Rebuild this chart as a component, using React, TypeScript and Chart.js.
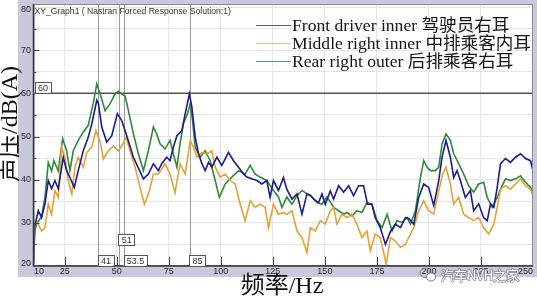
import React, { useEffect, useRef } from 'react';
import { Chart, registerables } from 'chart.js';

Chart.register(...registerables);

// ---------- data ----------
const frontFreq = [10, 10.5, 12.3, 13.9, 15.5, 17.1, 18.7, 20.3, 21.9, 24.3, 25.9, 27.5, 29.6, 31.5, 33.9, 36.3, 38, 40.4, 41.2, 42.8, 45.2, 47.6, 50.3, 52.4, 54.8, 58, 62.8, 65.2, 67.6, 70, 71.6, 74, 75.6, 77.2, 78.9, 81.3, 82.9, 84.9, 86.1, 87.7, 89.3, 90.9, 92.5, 94.1, 95.7, 98.1, 100.5, 103.7, 106.1, 108.5, 110.9, 112.5, 114.9, 117.3, 119.7, 122.1, 123.7, 125.3, 127.7, 130.1, 131.7, 134.2, 136.6, 139, 141.4, 143, 144.6, 147, 148.6, 150.2, 152.6, 154.2, 156.6, 159, 161.4, 163.8, 166.2, 168.6, 170.5, 172.6, 174.2, 176.6, 179.1, 181.5, 183.9, 186.3, 188.7, 190.3, 192.7, 195.1, 197.5, 199.9, 202.3, 204.7, 206.3, 208.2, 210.3, 211.9, 213.5, 215.1, 217.5, 219.9, 221.5, 223.9, 226.3, 228, 229.6, 231.2, 232.8, 234.4, 236.8, 239.2, 241.6, 244, 246.4, 248.8, 250];
const frontDb = [20.5, 29, 32.8, 31.2, 34.4, 39.8, 37.9, 39.8, 37.9, 45.2, 42.1, 40.5, 38.2, 42.1, 46.7, 49.8, 52.9, 58.4, 57.6, 52.2, 48.7, 50.2, 55.3, 53.7, 50.2, 45.2, 40.2, 41.3, 43.7, 42.1, 43.7, 45.2, 44.4, 47.5, 50.2, 51.4, 55.3, 59.9, 56.8, 49.8, 46, 43.7, 42.1, 44, 42.9, 45.2, 43.3, 46.3, 44.4, 42.9, 41.3, 40.6, 40.2, 39.8, 39, 39.8, 35.9, 39.8, 37.5, 40.5, 37.8, 35.5, 36.7, 32, 36.7, 36.4, 35.5, 34.7, 36.7, 34.3, 37.4, 35.5, 38.6, 37.1, 38.6, 36.3, 38.6, 38.6, 34.3, 34.3, 31.2, 28.9, 25, 28, 29.7, 28.9, 31.2, 31, 29.7, 35.9, 39, 38.2, 34, 39.8, 45.2, 49.1, 45.2, 40.5, 42.1, 39.8, 35.9, 37.5, 32.8, 34.4, 31.2, 30.5, 34.4, 33.6, 38.2, 43.7, 44.9, 44, 45.2, 46, 44.9, 44.4, 42.1];

const middleFreq = [10, 10.6, 11.5, 13.9, 15.5, 17.1, 18.7, 20.3, 21.9, 23.5, 25.1, 26.7, 28.4, 29.9, 31.5, 33.9, 35.6, 38, 40, 42, 43.6, 46, 48.4, 50.8, 52.4, 54.5, 56.4, 58.8, 61.2, 63.3, 65.7, 67.6, 70, 71.2, 73.2, 75.6, 78, 80.4, 82.9, 85.3, 86.9, 88.5, 90.9, 93.3, 95.7, 97.3, 99.7, 102.1, 104.5, 106.9, 109.3, 111.7, 114.1, 116.5, 118.9, 121.3, 122.9, 125.3, 127.7, 130.1, 131.7, 134.2, 136.6, 139, 141.4, 143, 145.4, 147.8, 150.2, 152.6, 154.2, 155.8, 158.2, 160.6, 163, 165.4, 167.8, 170.2, 171.8, 174.2, 176.6, 179.5, 181.5, 183.9, 186.3, 188.7, 190.3, 192.7, 195.1, 197.5, 199.9, 202.3, 204.7, 206.6, 208.2, 210.3, 211.9, 214.3, 216.7, 219.1, 221.5, 223.9, 226.3, 228.7, 231.2, 232.8, 234.4, 236.8, 239.2, 241.6, 244, 246.4, 248.8, 250];
const middleDb = [20.5, 29, 30.5, 28.1, 28.9, 34.3, 32, 37.4, 35.9, 47.5, 45.2, 39.8, 36.7, 42.9, 45.2, 42.9, 46.3, 47.5, 51.4, 48.8, 44.8, 46.7, 47.8, 46.7, 47.8, 49.8, 46.7, 42.9, 38.2, 34.3, 37.4, 41.3, 41.3, 42.1, 43.7, 41.3, 37, 43.7, 41.3, 49.1, 47.5, 45.2, 46.3, 46, 46.7, 42.9, 40.6, 41.3, 39.8, 39, 34.3, 30.5, 35.1, 33.6, 34.3, 33.6, 28.9, 34.3, 32, 32.4, 32, 32.8, 28.1, 26.6, 23.1, 28.9, 28.1, 30.5, 29.7, 32.8, 33.6, 29.7, 32, 31.2, 32, 29.7, 26.6, 28.1, 23.5, 27.4, 26.6, 20.4, 26.6, 25.8, 24.3, 25, 26.6, 28.9, 32.8, 35.1, 32.8, 32, 37.4, 41.3, 42.9, 39, 34.3, 35.9, 32, 31.2, 30.5, 31.2, 28.9, 27.4, 29.7, 33.6, 37.8, 38.6, 37.8, 39, 40.2, 38.6, 37.8, 36.3];

const rearFreq = [10, 10.6, 11.5, 13.9, 15.5, 17.1, 18.7, 19.8, 21.9, 24, 25.9, 27.5, 29.1, 31.5, 33.9, 36.3, 38.7, 40.4, 42, 44.4, 46.8, 49.2, 50.8, 52.4, 54, 55.6, 58, 60.4, 62.8, 65.2, 67.6, 69.2, 70.8, 73.2, 75.6, 77.2, 78.9, 80.4, 82, 84, 85.3, 86.4, 87.7, 90.1, 92.5, 94.9, 97.3, 99.3, 102.1, 105.3, 108.5, 111.7, 114.1, 116.5, 118.9, 122.1, 125.3, 127.7, 129.4, 131.7, 134.2, 136.6, 139, 141.4, 143.8, 146.2, 148.6, 151, 154.2, 156.6, 159, 160.6, 163, 165.4, 167.8, 170.2, 172.6, 175.1, 177.5, 179.9, 182.3, 184.7, 187.1, 189.5, 191.1, 193.5, 195.9, 197.5, 199.1, 200.7, 203.1, 204.7, 206.3, 208.2, 210.3, 211.9, 214.3, 216.7, 219.1, 221.5, 223.9, 226.3, 228, 230.4, 232.8, 234.4, 236.8, 239.2, 241.6, 244, 246.4, 248.8, 250];
const rearDb = [20.5, 28, 29.7, 31.5, 35.9, 44, 42, 44.4, 42, 49.5, 46.7, 42.1, 46.7, 49.1, 51, 52.6, 57.6, 62.2, 59.9, 56, 57.6, 59.9, 60.5, 59.8, 59.4, 56, 50.6, 46, 42.1, 46.7, 52.2, 50.6, 48.3, 47.1, 49.1, 46, 42.9, 48.3, 52.9, 55.3, 57.6, 53.7, 47.5, 45.2, 46.7, 44.4, 39.8, 35.9, 39, 40.6, 42.1, 41.3, 43.3, 41.3, 40.6, 39.8, 37.5, 36, 33.6, 36, 34.3, 36.3, 37.5, 36.7, 36, 34.7, 34.3, 36, 33.6, 32.8, 32, 32.4, 31.6, 32.8, 32.4, 34.7, 34.3, 30.5, 28.9, 32, 28.1, 30.5, 30.1, 31.2, 29.7, 32.8, 40.5, 44.4, 42.9, 42.1, 42.1, 42.9, 48.3, 50.6, 49.1, 46, 43.7, 41.3, 38.6, 37.1, 39, 39.4, 35.9, 33.6, 35.9, 37.8, 40.2, 39.8, 40.2, 40.9, 39.4, 38.2, 36.7];

const seriesNames = ['Front driver inner 驾驶员右耳', 'Middle right inner 中排乘客内耳', 'Rear right outer 后排乘客右耳'];
const xTickLabelValues = [10, 25, 50, 75, 100, 125, 150, 175, 200, 225, 250];
const xTickLabels = ['10', '25', '50', '75', '100', '125', '150', '175', '200', '225', '250'];
const yTickLabelValues = [20, 30, 40, 50, 60, 70, 80];
const yTickLabels = ['20', '30', '40', '50', '60', '70', '80'];
const markerFreqs = [41, 51, 53.5, 85];
const markerLabels = ['41', '51', '53.5', '85'];
const refLevel = 60;
const refLabel = '60';
const graphTitle = 'XY_Graph1 ( Nastran Forced Response Solution:1)';
const yAxisTitle = '声压/dB(A)';
const xAxisTitle = '频率/Hz';
const watermark = '汽车NVH之家';

// ---------- styling ----------
const W = 537;
const H = 296;
const BAND = '#c9c9de';
const COLORS = ['#1c1c8c', '#e6a235', '#2e8a3a'];
const LEGEND_COLORS = ['#5a5a7a', '#e8c860', '#5a9a8a'];
const SANS = '"Liberation Sans", Arial, sans-serif';
const SERIF = '"Liberation Serif", "Times New Roman", "Noto Sans CJK SC", serif';

const pts = (f: number[], d: number[]) => f.map((x, i) => ({ x, y: d[i] }));

export default function App() {
  const ref = useRef<HTMLCanvasElement>(null);

  useEffect(() => {
    const canvas = ref.current;
    if (!canvas) return;

    const overlay = {
      id: 'overlay',
      beforeDraw(chart: any) {
        const { ctx, chartArea: a } = chart;
        ctx.save();
        ctx.fillStyle = '#ffffff';
        ctx.fillRect(0, 0, W, H);
        ctx.fillStyle = BAND;
        ctx.fillRect(18, 0, W - 18, 277);
        ctx.fillStyle = '#ffffff';
        ctx.fillRect(a.left, a.top, a.right - a.left, a.bottom - a.top);
        ctx.restore();
      },
      beforeDatasetsDraw(chart: any) {
        const { ctx, chartArea: a, scales } = chart;
        const xs = scales.x;
        const ys = scales.y;
        ctx.save();
        ctx.strokeStyle = '#9a9a9a';
        ctx.lineWidth = 1;
        markerFreqs.forEach((f) => {
          const px = Math.round(xs.getPixelForValue(f)) + 0.5;
          ctx.beginPath();
          ctx.moveTo(px, a.top);
          ctx.lineTo(px, a.bottom);
          ctx.stroke();
        });
        const py = ys.getPixelForValue(refLevel);
        ctx.strokeStyle = '#555555';
        ctx.lineWidth = 1.5;
        ctx.beginPath();
        ctx.moveTo(a.left, py);
        ctx.lineTo(a.right, py);
        ctx.stroke();
        ctx.restore();
      },
      afterDatasetsDraw(chart: any) {
        const { ctx, chartArea: a, scales } = chart;
        const xs = scales.x;
        const ys = scales.y;
        ctx.save();

        // frame
        ctx.strokeStyle = '#8a8a8a';
        ctx.lineWidth = 1;
        ctx.strokeRect(a.left + 0.5, a.top + 0.5, a.right - a.left - 1, a.bottom - a.top - 1);
        // axes
        ctx.strokeStyle = '#333333';
        ctx.lineWidth = 1.5;
        ctx.beginPath();
        ctx.moveTo(a.left, a.top);
        ctx.lineTo(a.left, a.bottom);
        ctx.lineTo(a.right, a.bottom);
        ctx.stroke();

        // y ticks
        ctx.lineWidth = 1;
        ctx.strokeStyle = '#444444';
        for (let v = 25; v < 80; v += 5) {
          const py = Math.round(ys.getPixelForValue(v)) + 0.5;
          ctx.beginPath();
          ctx.moveTo(a.left, py);
          ctx.lineTo(a.left + (v % 10 === 0 ? 6 : 3), py);
          ctx.stroke();
        }
        // x ticks
        xTickLabelValues.forEach((v) => {
          if (v <= 10 || v >= 250) return;
          const px = Math.round(xs.getPixelForValue(v)) + 0.5;
          ctx.beginPath();
          ctx.moveTo(px, a.bottom);
          ctx.lineTo(px, a.bottom - 9);
          ctx.stroke();
        });

        // tick labels
        ctx.fillStyle = '#262626';
        ctx.font = `9px ${SANS}`;
        ctx.textBaseline = 'middle';
        ctx.textAlign = 'right';
        yTickLabelValues.forEach((v, i) => {
          let py = ys.getPixelForValue(v);
          if (v === 80) py += 2;
          if (v === 20) py -= 2;
          ctx.fillText(yTickLabels[i], 31, py);
        });
        xTickLabelValues.forEach((v, i) => {
          const px = xs.getPixelForValue(v);
          if (v === 10) {
            ctx.textAlign = 'left';
            ctx.fillText(xTickLabels[i], px + 0.5, 272);
          } else if (v === 250) {
            ctx.textAlign = 'right';
            ctx.fillText(xTickLabels[i], px, 272);
          } else {
            ctx.textAlign = 'center';
            ctx.fillText(xTickLabels[i], px, 272);
          }
        });

        // marker label boxes
        const box = (text: string, left: number, top: number) => {
          ctx.font = `9px ${SANS}`;
          const w = Math.ceil(ctx.measureText(text).width) + 5;
          const h = 11;
          ctx.fillStyle = '#ffffff';
          ctx.fillRect(left, top, w, h);
          ctx.strokeStyle = '#555555';
          ctx.lineWidth = 1;
          ctx.strokeRect(Math.round(left) + 0.5, Math.round(top) + 0.5, w, h);
          ctx.fillStyle = '#333333';
          ctx.textAlign = 'center';
          ctx.textBaseline = 'middle';
          ctx.fillText(text, left + w / 2 + 0.5, top + h / 2 + 1);
        };
        markerFreqs.forEach((f, i) => {
          const px = xs.getPixelForValue(f) - 0.5;
          const top = f === 51 ? 234 : a.bottom - 11;
          box(markerLabels[i], px, top);
        });
        box(refLabel, a.left + 1, ys.getPixelForValue(refLevel) - 11);

        // title
        ctx.fillStyle = '#333333';
        ctx.font = `8.6px ${SANS}`;
        ctx.textAlign = 'left';
        ctx.textBaseline = 'middle';
        ctx.fillText(graphTitle, a.left + 1, 12);

        // legend
        const legendY = [25, 43, 61];
        seriesNames.forEach((name, i) => {
          ctx.strokeStyle = LEGEND_COLORS[i];
          ctx.lineWidth = 1;
          ctx.beginPath();
          ctx.moveTo(256, legendY[i] + 0.5);
          ctx.lineTo(291, legendY[i] + 0.5);
          ctx.stroke();
          ctx.fillStyle = '#151515';
          ctx.font = `17.6px ${SERIF}`;
          ctx.textAlign = 'left';
          ctx.textBaseline = 'middle';
          ctx.fillText(name, 292, legendY[i] + 1);
        });

        // big axis titles
        ctx.fillStyle = '#111111';
        ctx.font = `24px ${SERIF}`;
        ctx.textAlign = 'center';
        ctx.textBaseline = 'middle';
        ctx.save();
        ctx.translate(11, 124);
        ctx.rotate(-Math.PI / 2);
        ctx.fillText(yAxisTitle, 0, 0);
        ctx.restore();
        ctx.fillText(xAxisTitle, 282, 287);

        // watermark
        ctx.font = `13px "Noto Sans CJK SC", sans-serif`;
        ctx.textAlign = 'left';
        ctx.lineWidth = 1.5;
        ctx.strokeStyle = '#8a8a9a';
        ctx.strokeText(watermark, 441, 275);
        ctx.fillStyle = '#ffffff';
        ctx.fillText(watermark, 441, 275);
        ctx.strokeStyle = '#7a7a8a';
        ctx.lineWidth = 1;
        ctx.beginPath();
        ctx.ellipse(425, 273, 5, 4.5, 0, 0, Math.PI * 2);
        ctx.stroke();
        ctx.beginPath();
        ctx.ellipse(431, 277, 4.5, 4, 0, 0, Math.PI * 2);
        ctx.fillStyle = '#ffffff';
        ctx.fill();
        ctx.stroke();

        ctx.restore();
      },
    };

    const chart = new Chart(canvas, {
      type: 'line',
      data: {
        datasets: [
          { label: seriesNames[0], data: pts(frontFreq, frontDb), borderColor: COLORS[0], borderWidth: 1.6 },
          { label: seriesNames[1], data: pts(middleFreq, middleDb), borderColor: COLORS[1], borderWidth: 1.6 },
          { label: seriesNames[2], data: pts(rearFreq, rearDb), borderColor: COLORS[2], borderWidth: 1.6 },
        ].map((d) => ({ ...d, pointRadius: 0, tension: 0, fill: false })),
      },
      options: {
        responsive: false,
        animation: false,
        events: [],
        layout: { padding: { left: 33.5, right: 4, top: 4, bottom: 30 } },
        plugins: { legend: { display: false }, tooltip: { enabled: false }, title: { display: false } },
        scales: {
          x: {
            type: 'linear',
            min: 10,
            max: 250,
            ticks: { display: false },
            grid: { color: '#e4e4ea', drawTicks: false },
            border: { display: false },
            afterBuildTicks: (s: any) => {
              s.ticks = [25, 50, 75, 100, 125, 150, 175, 200, 225].map((v) => ({ value: v }));
            },
          },
          y: {
            type: 'linear',
            min: 20,
            max: 80.7,
            ticks: { display: false },
            grid: { color: '#e4e4ea', drawTicks: false },
            border: { display: false },
            afterBuildTicks: (s: any) => {
              const t = [];
              for (let v = 25; v <= 80; v += 5) t.push({ value: v });
              s.ticks = t;
            },
          },
        },
      },
      plugins: [overlay],
    } as any);

    return () => chart.destroy();
  }, []);

  return (
    <div style={{ position: 'fixed', left: 0, top: 0, width: W, height: H, background: '#fff' }}>
      <canvas ref={ref} width={W} height={H} style={{ display: 'block', width: W, height: H }} />
    </div>
  );
}
